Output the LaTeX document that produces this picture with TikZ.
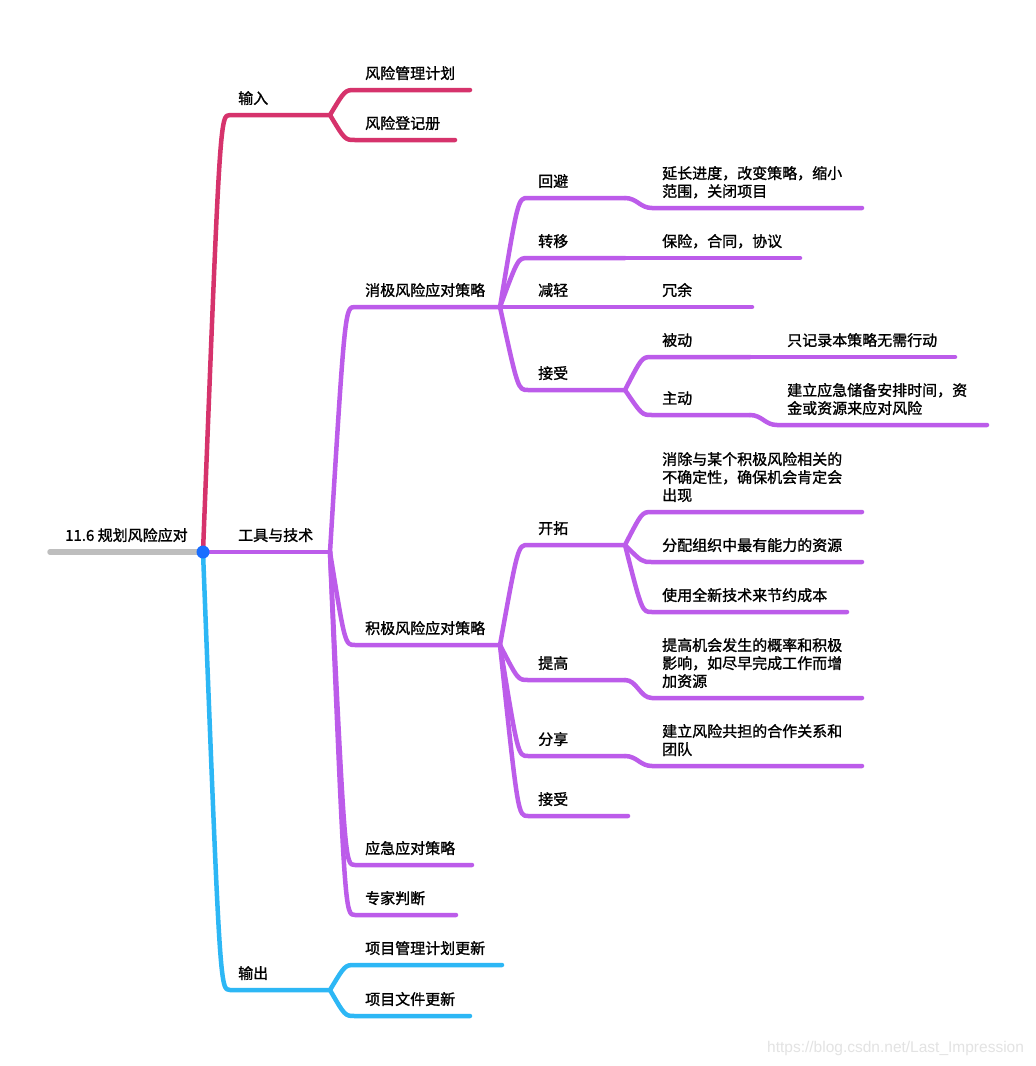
\documentclass[tikz,border=0pt]{standalone}
\usepackage{fontspec}
\setmainfont{Noto Sans CJK SC}[RawFeature={embolden=1.3}]
\newfontfamily\urlfont{Liberation Sans}

\definecolor{inred}{RGB}{214,51,108}
\definecolor{toolpurple}{RGB}{188,92,234}
\definecolor{outblue}{RGB}{45,183,245}
\definecolor{rootgray}{RGB}{190,190,190}
\definecolor{dotblue}{RGB}{25,110,255}

\tikzset{
  limb/.style={line width=4.5pt, line cap=round, line join=round},
  topic/.style={anchor=south west, inner sep=0pt, text depth=0pt, align=left,
    font=\fontsize{15}{18}\selectfont},
}

% \branch{colour}{name}{parent}{x start}{y}{x end}{text}
\newcommand{\branch}[7]{%
  \coordinate (#2) at (#6,#5);
  \draw[limb,#1] (#3) .. controls (#4-10,#5) .. (#4,#5) -- (#2);
  \node[topic] (#2-t) at (#4+10,#5-11) {#7};
}
% same, but the child line sits a little lower (S bend)
\newcommand{\shifted}[7]{%
  \coordinate (#2) at (#6,#5);
  \draw[limb,#1] (#3) .. controls +(12,0) and (#4-12,#5) .. (#4,#5) -- (#2);
  \node[topic] (#2-t) at (#4+10,#5-11) {#7};
}

\begin{document}
\begin{tikzpicture}[x=1pt,y=-1pt]
  \fill[white] (0,0) rectangle (1036,1066);
  \useasboundingbox (0,0) rectangle (1036,1066);

  % root
  \coordinate (root) at (203,552);
  \coordinate (rootend) at (50,552);
  \draw[limb, rootgray, line width=5.5pt] (rootend) -- (root);
  \node[topic] (root-t) at (65,541) {11.6 规划风险应对};

  % inputs
  \branch{inred}{input}{root}{230}{115}{330}{\hspace{-2pt}输入}
  \branch{inred}{plan}{input}{355}{90}{470}{风险管理计划}
  \branch{inred}{register}{input}{355}{140}{455}{风险登记册}

  % tools
  \branch{toolpurple}{tools}{root}{228}{552}{330}{工具与技术}
  \branch{toolpurple}{negative}{tools}{355}{307}{500}{消极风险应对策略}
  \branch{toolpurple}{avoid}{negative}{528}{198}{625}{回避}
  \shifted{toolpurple}{avoidx}{avoid}{652}{208}{862}{延长进度，改变策略，缩小\\范围，关闭项目}
  \branch{toolpurple}{transfer}{negative}{528}{258}{625}{转移}
  \branch{toolpurple}{transferx}{transfer}{652}{258}{800}{保险，合同，协议}
  \branch{toolpurple}{mitigate}{negative}{528}{307}{625}{减轻}
  \branch{toolpurple}{mitigatex}{mitigate}{652}{307}{752}{冗余}
  \branch{toolpurple}{accept}{negative}{528}{390}{625}{接受}
  \branch{toolpurple}{passive}{accept}{652}{357}{750}{被动}
  \branch{toolpurple}{passivex}{passive}{777}{357}{955}{只记录本策略无需行动}
  \branch{toolpurple}{active}{accept}{652}{415}{750}{主动}
  \shifted{toolpurple}{activex}{active}{777}{425}{987}{建立应急储备安排时间，资\\金或资源来应对风险}

  \branch{toolpurple}{positive}{tools}{355}{645}{500}{积极风险应对策略}
  \branch{toolpurple}{exploit}{positive}{528}{545}{625}{开拓}
  \branch{toolpurple}{exploita}{exploit}{652}{512}{862}{消除与某个积极风险相关的\\不确定性，确保机会肯定会\\出现}
  \branch{toolpurple}{exploitb}{exploit}{652}{562}{862}{分配组织中最有能力的资源}
  \branch{toolpurple}{exploitc}{exploit}{652}{612}{847}{使用全新技术来节约成本}
  \branch{toolpurple}{enhance}{positive}{528}{680}{625}{提高}
  \shifted{toolpurple}{enhancex}{enhance}{652}{698}{862}{提高机会发生的概率和积极\\影响，如尽早完成工作而增\\加资源}
  \branch{toolpurple}{share}{positive}{528}{756}{625}{分享}
  \shifted{toolpurple}{sharex}{share}{652}{766}{862}{建立风险共担的合作关系和\\团队}
  \branch{toolpurple}{posaccept}{positive}{528}{816}{628}{接受}

  \branch{toolpurple}{contingent}{tools}{355}{865}{472}{应急应对策略}
  \branch{toolpurple}{expert}{tools}{355}{915}{456}{专家判断}

  % outputs
  \branch{outblue}{output}{root}{230}{990}{330}{\hspace{-2pt}输出}
  \branch{outblue}{pmpupdate}{output}{355}{965}{502}{项目管理计划更新}
  \branch{outblue}{docupdate}{output}{355}{1016}{470}{项目文件更新}

  \fill[dotblue] (root) circle (6.5pt);

  % watermark
  \node[anchor=base west, inner sep=0pt, text=black!11,
    font=\urlfont\fontsize{15.5}{17}\selectfont] (mark) at (767,1052)
    {https://blog.csdn.net/Last\_Impression};
\end{tikzpicture}
\end{document}
